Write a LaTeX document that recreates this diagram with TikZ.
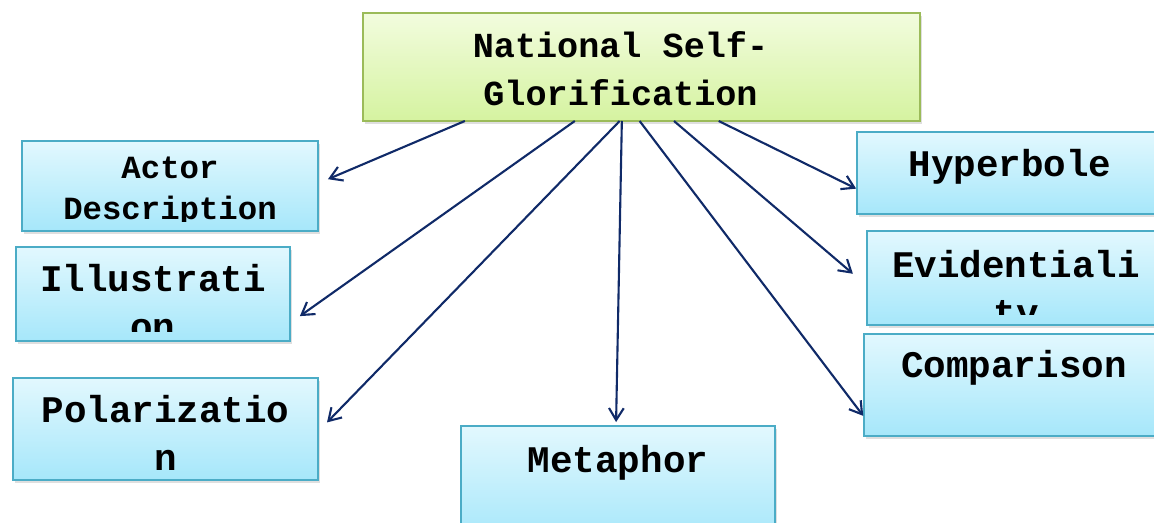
\documentclass[tikz,border=0pt]{standalone}
\usepackage{fontspec}
\setmonofont{Liberation Mono}
\usetikzlibrary{arrows.meta,calc,fit,shadows}

\definecolor{aquaedge}{RGB}{75,172,198}
\definecolor{aquatop}{RGB}{226,248,254}
\definecolor{aquabot}{RGB}{166,231,250}
\definecolor{greenedge}{RGB}{155,187,89}
\definecolor{greentop}{RGB}{242,252,222}
\definecolor{greenbot}{RGB}{213,243,160}
\definecolor{linknavy}{RGB}{16,42,104}

\tikzset{
  leaf/.style={draw=aquaedge, line width=1.2pt, top color=aquatop, bottom color=aquabot,
    inner sep=0pt, outer sep=0pt,
    drop shadow={shadow xshift=1.5pt, shadow yshift=-2pt, opacity=0.25}},
  rootbox/.style={leaf, draw=greenedge, top color=greentop, bottom color=greenbot},
  lbl/.style={anchor=north, inner sep=0pt, align=center,
    font=\ttfamily\bfseries\fontsize{26.7}{34}\selectfont},
  link/.style={draw=linknavy, line width=1.5pt, -{Straight Barb[length=8.5pt,width=10.5pt]}}
}

\begin{document}
\begin{tikzpicture}[x=0.025cm, y=-0.025cm]
    \useasboundingbox (0,0) rectangle (1154,523);

    % boxes
    \node[rootbox, fit={(363,13) (920,121)}] (root) {};
    \node[leaf, fit={(22,141) (318,231)}] (actor) {};
    \node[leaf, fit={(16,247) (290,341)}] (illus) {};
    \node[leaf, fit={(13,378) (318,480)}] (polar) {};
    \node[leaf, fit={(461,426) (775,540)}] (meta) {};
    \node[leaf, fit={(857,132) (1163,214)}] (hyper) {};
    \node[leaf, fit={(867,231) (1165,325)}] (evid) {};
    \node[leaf, fit={(864,334) (1164,436)}] (compar) {};

    % texts
    \node[lbl, font=\ttfamily\bfseries\fontsize{25}{34}\selectfont] (roottxt) at ($(root.north)+(-21,18)$) {National Self-\\Glorification};
    \begin{scope}
        \clip ($(actor.south west)+(0,-9)$) rectangle (actor.north east);
        \node[lbl, font=\ttfamily\bfseries\fontsize{23}{29}\selectfont] (actortxt) at ($(actor.north)+(0,16)$) {Actor\\Description};
    \end{scope}
    \begin{scope}
        \clip ($(illus.south west)+(0,-9)$) rectangle (illus.north east);
        \node[lbl] (illustxt) at ($(illus.north)+(0,17)$) {Illustrati\\on};
    \end{scope}
    \node[lbl] (polartxt) at ($(polar.north)+(0,17)$) {Polarizatio\\n};
    \node[lbl] (metatxt) at ($(meta.north)+(0,19)$) {Metaphor};
    \node[lbl] (hypertxt) at ($(hyper.north)+(0,17)$) {Hyperbole};
    \begin{scope}
        \clip ($(evid.south west)+(0,-10)$) rectangle (evid.north east);
        \node[lbl] (evidtxt) at ($(evid.north)+(0,19)$) {Evidentiali\\ty};
    \end{scope}
    \node[lbl] (compartxt) at ($(compar.north)+(0,16)$) {Comparison};

    % arrows
    \draw[link, shorten >=7.7pt] (root.197.8) -- (actor.1.5);
    \draw[link, shorten >=8.6pt] (root.219.1) -- (illus.348.9);
    \draw[link, shorten >=9.2pt] (root.248.3) -- (polar.359.1);
    \draw[link, shorten >=2.8pt] (root.250.1) -- (meta.92);
    \draw[link, shorten >=0.9pt] (root.268.4) -- (compar.192.2);
    \draw[link, shorten >=13.2pt] (root.301) -- (evid.183.6);
    \draw[link, shorten >=0.7pt] (root.325.8) -- (hyper.186.2);
\end{tikzpicture}
\end{document}
